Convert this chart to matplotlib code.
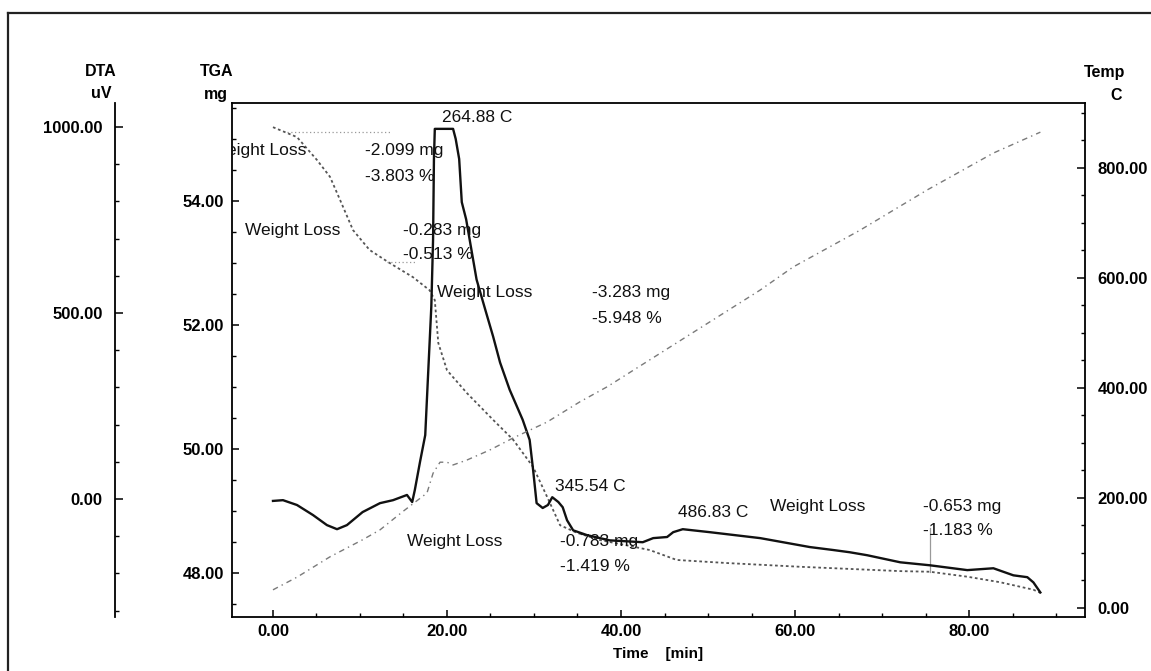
import matplotlib
matplotlib.use("Agg")
import matplotlib.pyplot as plt
from matplotlib.lines import Line2D
from matplotlib.ticker import MultipleLocator, FormatStrFormatter

plt.rcParams['font.family'] = ['Liberation Sans', 'DejaVu Sans']

# ---------------- data ----------------
dta_time = [0.0, 1.15, 2.76, 4.6, 6.2, 7.36, 8.5, 10.3, 12.3, 13.8, 15.4, 16.0, 16.3,
            16.9, 17.5, 17.8, 18.2, 18.4, 18.5, 18.6, 20.7, 21.0, 21.4, 21.7, 22.2,
            22.6, 23.4, 24.4, 25.3, 26.1, 27.2, 28.7, 29.5, 29.9, 30.3, 31.0, 31.6,
            32.1, 32.8, 33.3, 33.8, 34.5, 36.1, 38.7, 42.5, 43.7, 45.3, 46.0, 47.1,
            50.2, 56.0, 61.7, 64.4, 66.3, 68.3, 72.1, 75.5, 79.8, 82.8, 85.1, 86.7,
            87.4, 88.2]
dta_uv = [-5, -3, -16, -43, -70, -81, -70, -35, -11, -3, 11, -8, 24,
          100, 172, 321, 518, 698, 914, 995, 995, 968, 914, 798, 752,
          698, 590, 509, 437, 367, 294, 213, 159, 78, -11, -24, -16,
          5, -8, -22, -57, -84, -97, -111, -116, -105, -102, -89, -81,
          -89, -105, -129, -137, -143, -151, -170, -178, -191, -186, -205, -210,
          -224, -251]

tga_time = [0.0, 2.76, 5.06, 6.55, 7.7, 9.2, 11.1, 13.4, 16.1, 18.0, 18.6, 19.0,
            20.0, 22.3, 25.3, 27.6, 29.9, 31.5, 33.0, 34.9, 37.6, 40.5, 43.3, 46.4,
            52.2, 60.6, 72.1, 75.5, 79.8, 83.6, 87.4, 88.2]
tga_mg = [55.19, 55.03, 54.66, 54.39, 54.02, 53.53, 53.21, 53.00, 52.77, 52.56, 52.40, 51.71,
          51.27, 50.90, 50.47, 50.15, 49.71, 49.23, 48.77, 48.65, 48.53, 48.45, 48.37, 48.21,
          48.16, 48.10, 48.03, 48.02, 47.94, 47.85, 47.73, 47.68]

temp_time = [0.0, 2.76, 6.55, 10.3, 12.3, 14.9, 17.7, 18.4, 19.2, 20.0, 20.7, 22.3,
             24.9, 27.6, 31.5, 35.3, 38.4, 56.0, 59.8, 67.5, 75.2, 82.8, 88.2]
temp_c = [33, 56, 93, 124, 142, 175, 209, 245, 265, 265, 260, 269,
          287, 309, 338, 375, 402, 578, 620, 687, 760, 827, 865]

# annotation texts (text, time, TGA mg position)
annotations = [
    ("Weight Loss", -7.13, 54.82), ("-2.099 mg", 10.57, 54.82), ("-3.803 %", 10.57, 54.40),
    ("Weight Loss", -3.22, 53.53), ("-0.283 mg", 14.94, 53.53), ("-0.513 %", 14.94, 53.13),
    ("Weight Loss", 18.85, 52.53), ("-3.283 mg", 36.67, 52.53), ("-5.948 %", 36.67, 52.11),
    ("264.88 C", 19.43, 55.34), ("345.54 C", 32.41, 49.39),
    ("Weight Loss", 15.4, 48.50), ("-0.783 mg", 32.99, 48.50), ("-1.419 %", 32.99, 48.10),
    ("486.83 C", 46.55, 48.97),
    ("Weight Loss", 57.13, 49.08), ("-0.653 mg", 74.71, 49.08), ("-1.183 %", 74.71, 48.68),
]

x_ticks = [0, 20, 40, 60, 80]
tga_ticks = [48, 50, 52, 54]
dta_ticks = [0, 500, 1000]
temp_ticks = [0, 200, 400, 600, 800]

# ---------------- figure ----------------
W, H = 1151, 671
fig = plt.figure(figsize=(W / 100, H / 100), dpi=100)
fig.patch.set_facecolor('white')

left, right, top, bottom = 232, 1085, 103, 617
ax = fig.add_axes([left / W, 1 - bottom / H, (right - left) / W, (bottom - top) / H])
ax.set_xlim(-4.71, 93.33)
ax.set_ylim(47.29, 55.58)

ax_dta = ax.twinx()
ax_dta.set_ylim(-317, 1064.5)
ax_tmp = ax.twinx()
ax_tmp.set_ylim(-16.4, 918)

tick_font = dict(fontsize=12, fontweight='bold')

# TGA axis (left, inner)
ax.yaxis.set_major_locator(MultipleLocator(2))
ax.yaxis.set_minor_locator(MultipleLocator(0.5))
ax.set_yticks(tga_ticks)
ax.yaxis.set_major_formatter(FormatStrFormatter('%.2f'))
ax.xaxis.set_major_formatter(FormatStrFormatter('%.2f'))
ax.set_xticks(x_ticks)
ax.xaxis.set_minor_locator(MultipleLocator(5))
ax.tick_params(axis='both', which='major', direction='in', length=5, width=1.1, pad=6)
ax.tick_params(axis='both', which='minor', direction='in', length=3, width=1.0)
ax.tick_params(axis='x', which='major', pad=5)
for lab in ax.get_xticklabels() + ax.get_yticklabels():
    lab.set_fontsize(12)
    lab.set_fontweight('bold')
ax.set_xlabel("Time    [min]", fontsize=11, fontweight='bold', labelpad=6)
for s in ax.spines.values():
    s.set_linewidth(1.3)
ax.spines['right'].set_visible(False)

# DTA axis (far left)
for s in ['top', 'bottom', 'right']:
    ax_dta.spines[s].set_visible(False)
ax_dta.spines['left'].set_visible(True)
ax_dta.spines['left'].set_position(('axes', (115 - left) / (right - left)))
ax_dta.spines['left'].set_linewidth(1.3)
ax_dta.yaxis.set_ticks_position('left')
ax_dta.set_yticks(dta_ticks)
ax_dta.yaxis.set_minor_locator(MultipleLocator(100))
ax_dta.yaxis.set_major_formatter(FormatStrFormatter('%.2f'))
ax_dta.tick_params(axis='y', which='major', direction='in', length=6, width=1.1, pad=9)
ax_dta.tick_params(axis='y', which='minor', direction='in', length=3, width=1.0)
for lab in ax_dta.get_yticklabels():
    lab.set_fontsize(12)
    lab.set_fontweight('bold')

# Temperature axis (right)
for s in ['top', 'bottom', 'left']:
    ax_tmp.spines[s].set_visible(False)
ax_tmp.spines['right'].set_linewidth(1.3)
ax_tmp.set_yticks(temp_ticks)
ax_tmp.yaxis.set_minor_locator(MultipleLocator(50))
ax_tmp.yaxis.set_major_formatter(FormatStrFormatter('%.2f'))
ax_tmp.tick_params(axis='y', which='major', direction='in', length=6, width=1.1, pad=9)
ax_tmp.tick_params(axis='y', which='minor', direction='in', length=3, width=1.0)
for lab in ax_tmp.get_yticklabels():
    lab.set_fontsize(12)
    lab.set_fontweight('bold')

# ---------------- curves ----------------
ax_tmp.plot(temp_time, temp_c, color='#7a7a7a', lw=1.0, linestyle=(0, (4, 3, 1, 3)))
ax_dta.plot(dta_time, dta_uv, color='#111111', lw=1.7, solid_joinstyle='round')
ax.plot(tga_time, tga_mg, color='#555555', lw=1.3, linestyle=(0, (1.5, 1.5)))

# analysis marker lines
ax.plot([1.6, 13.4], [55.11, 55.11], color='#999999', lw=0.9, linestyle=(0, (1, 2)))
ax.plot([13.1, 16.6], [53.02, 53.02], color='#999999', lw=0.9, linestyle=(0, (1, 2)))
ax.plot([75.5, 75.5], [48.02, 48.72], color='#999999', lw=0.9)

# annotation texts
for txt, tx, ty in annotations:
    ax.text(tx, ty, txt, fontsize=12.5, va='center', ha='left', color='#111111',
            clip_on=True, zorder=5)

# axis titles
fig.text(117 / W, 1 - 71 / H, "DTA", ha='right', va='center', fontsize=11.5, fontweight='bold')
fig.text(111 / W, 1 - 93 / H, "uV", ha='right', va='center', fontsize=11.5, fontweight='bold')
fig.text(233 / W, 1 - 71 / H, "TGA", ha='right', va='center', fontsize=11.5, fontweight='bold')
fig.text(228 / W, 1 - 95 / H, "mg", ha='right', va='center', fontsize=11.5, fontweight='bold')
fig.text(1125 / W, 1 - 73 / H, "Temp", ha='right', va='center', fontsize=11.5, fontweight='bold')
fig.text(1122 / W, 1 - 95 / H, "C", ha='right', va='center', fontsize=11.5, fontweight='bold')

# outer scan frame
fig.add_artist(Line2D([8 / W, 1.0], [1 - 13 / H, 1 - 13 / H], color='#222222', lw=1.6,
                      transform=fig.transFigure))
fig.add_artist(Line2D([8 / W, 8 / W], [1 - 13 / H, 0.0], color='#222222', lw=1.6,
                      transform=fig.transFigure))

fig.savefig("out.png", dpi=100)
